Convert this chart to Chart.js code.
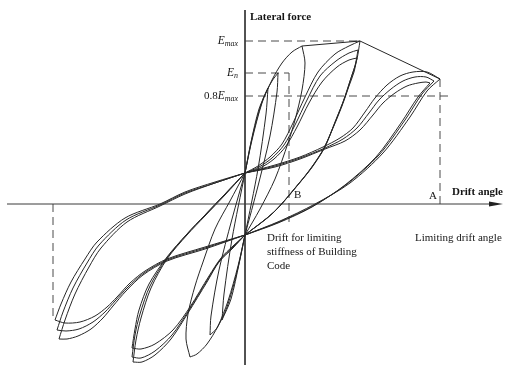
<!DOCTYPE html>
<html lang="en">
<head>
<meta charset="UTF-8">
<title>Lateral force vs drift angle</title>
<script src="https://cdn.jsdelivr.net/npm/chart.js"></script>
<style>
  body { margin: 0; background: #fff; }
  #box { width: 507px; height: 365px; }
</style>
</head>
<body>
<div id="box"><canvas id="loops" width="507" height="365"></canvas></div>
<script>
// drift angle on x, lateral force on y (same arbitrary units)
var driftRange = [-245, 262];
var forceRange = [-161, 204];
var driftAxis = [-238, 258];
var forceAxis = [-161, 194];

// force levels marked on the vertical axis
var forceLevels = [163, 131, 108];
var levelPrefix = ['', '', '0.8'];
var levelSub = ['max', 'n', 'max'];

// drift marks: B (building code stiffness), A (limiting drift), negative limit
var driftB = 44;
var driftA = 195;
var driftNeg = -192;
var peakA = [195, 125];
var peakNeg = [-190, -116];
var peakMax = [115, 163];

// skeleton through the peaks
var envelope = [[57, 158], [115, 163], [195, 125]];

// each loop: positive loading, unloading, negative loading, unloading
var loopA1 = [
  [[0,31],[30,39],[55,47],[78,57],[95,66],[108,76],[120,92],[130,106],[142,119],[155,128],[168,132],[182,132],[195,125]],
  [[195,125],[182,113],[165,87],[138,51],[105,21],[70,0],[35,-17],[0,-31]],
  [[0,-31],[-40,-43],[-78,-55],[-100,-67],[-115,-79],[-128,-93],[-138,-103],[-150,-112],[-165,-118],[-180,-119],[-190,-116]],
  [[-190,-116],[-184,-100],[-174,-78],[-160,-55],[-148,-38],[-120,-14],[-85,0],[-60,12],[-30,22],[0,31]]
];
var loopA2 = [
  [[0,31],[30,38],[55,46],[80,56],[98,65],[112,76],[124,91],[134,104],[146,115],[158,123],[170,127],[181,127],[189,123]],
  [[189,123],[177,110],[160,84],[134,49],[102,20],[68,-2],[34,-18],[0,-31]],
  [[0,-31],[-40,-44],[-78,-56],[-101,-69],[-117,-83],[-130,-97],[-140,-108],[-152,-118],[-166,-125],[-179,-127],[-188,-126]],
  [[-188,-126],[-182,-108],[-172,-84],[-158,-59],[-146,-41],[-119,-16],[-85,-1],[-60,11],[-30,21],[0,31]]
];
var loopA3 = [
  [[0,31],[30,37],[55,45],[80,55],[100,63],[115,74],[128,89],[138,101],[150,111],[162,118],[173,121],[181,122],[185,121]],
  [[185,121],[173,107],[156,81],[131,47],[100,19],[67,-3],[33,-19],[0,-31]],
  [[0,-31],[-40,-45],[-78,-57],[-102,-71],[-119,-87],[-132,-102],[-142,-114],[-154,-125],[-167,-132],[-178,-135],[-186,-135]],
  [[-186,-135],[-180,-116],[-170,-90],[-156,-63],[-144,-44],[-118,-18],[-85,-2],[-60,10],[-30,21],[0,31]]
];
var loopE1 = [
  [[0,31],[13,38],[25,47],[37,60],[48,81],[60,107],[73,132],[90,150],[104,158],[115,163]],
  [[115,163],[112,145],[107,129],[100,107],[90,82],[80,57],[68,38],[57,24],[30,-7],[0,-31]],
  [[0,-31],[-12,-42],[-24,-54],[-36,-72],[-55,-103],[-72,-126],[-90,-140],[-104,-145],[-113,-144]],
  [[-113,-144],[-110,-125],[-106,-106],[-96,-80],[-78,-53],[-58,-30],[-40,-11],[-20,10],[0,31]]
];
var loopE2 = [
  [[0,31],[14,37],[27,46],[39,59],[50,79],[62,104],[75,128],[91,143],[104,151],[113,154]],
  [[113,154],[110,138],[105,123],[98,102],[89,79],[79,56],[67,37],[56,23],[29,-8],[0,-31]],
  [[0,-31],[-12,-43],[-25,-56],[-37,-75],[-56,-106],[-73,-131],[-90,-147],[-104,-154],[-113,-153]],
  [[-113,-153],[-110,-131],[-105,-110],[-95,-82],[-78,-54],[-58,-30],[-40,-11],[-20,10],[0,31]]
];
var loopE3 = [
  [[0,31],[15,36],[29,45],[41,58],[52,77],[64,101],[77,122],[92,137],[104,144],[112,146]],
  [[112,146],[109,132],[104,118],[97,98],[88,76],[78,54],[66,36],[55,22],[28,-9],[0,-31]],
  [[0,-31],[-12,-44],[-26,-58],[-38,-78],[-57,-109],[-74,-135],[-90,-151],[-103,-158],[-112,-158]],
  [[-112,-158],[-109,-136],[-104,-114],[-94,-84],[-78,-55],[-58,-31],[-40,-12],[-20,9],[0,31]]
];
var loopB = [
  [[0,31],[7,64],[17,101],[27,124],[37,141],[47,152],[57,158]],
  [[57,158],[60,141],[57,114],[50,84],[43,61],[30,25],[15,-5],[0,-31]],
  [[0,-31],[-7,-62],[-17,-97],[-27,-122],[-38,-140],[-48,-150],[-55,-153]],
  [[-55,-153],[-59,-135],[-57,-110],[-50,-82],[-42,-58],[-30,-25],[-15,3],[0,31]]
];
var loopS1 = [
  [[0,31],[8,70],[18,105],[27,123],[33,131]],
  [[33,131],[32,112],[25,68],[13,18],[0,-31]],
  [[0,-31],[-8,-68],[-18,-103],[-28,-124],[-35,-131]],
  [[-35,-131],[-34,-112],[-26,-66],[-13,-15],[0,31]]
];
var loopS0 = [
  [[0,31],[6,62],[14,95],[23,116]],
  [[23,116],[21,90],[13,35],[0,-31]],
  [[0,-31],[-6,-60],[-14,-95],[-23,-116]],
  [[-23,-116],[-21,-90],[-13,-35],[0,31]]
];

var loops = [loopA1, loopA2, loopA3, loopE1, loopE2, loopE3, loopB, loopS1, loopS0];

function toPoints(pairs) {
  return pairs.map(function (p) { return { x: p[0], y: p[1] }; });
}

// segments are joined end to start, the repeated point keeps a sharp corner
function loopPoints(loop) {
  var pts = [];
  loop.forEach(function (seg) { pts = pts.concat(toPoints(seg)); });
  return pts;
}

var ink = '#262626';
var datasets = [];

loops.forEach(function (loop) {
  datasets.push({ data: loopPoints(loop), borderColor: ink, borderWidth: 1, tension: 0.3 });
});

datasets.push({ data: toPoints(envelope), borderColor: ink, borderWidth: 1, tension: 0 });

// axes
datasets.push({ data: toPoints([[driftAxis[0], 0], [driftAxis[1] - 8, 0]]), borderColor: '#3a3a3a', borderWidth: 1, tension: 0 });
datasets.push({ data: toPoints([[0, forceAxis[1]], [0, forceAxis[0]]]), borderColor: '#3a3a3a', borderWidth: 1, tension: 0 });

// dashed guides
var guides = [
  [[0, forceLevels[0]], [peakMax[0], forceLevels[0]]],
  [[0, forceLevels[1]], [driftB, forceLevels[1]]],
  [[0, forceLevels[2]], [205, forceLevels[2]]],
  [[driftB, forceLevels[1]], [driftB, -18]],
  [[driftA, peakA[1]], [driftA, 0]],
  [[driftNeg, 0], [driftNeg, peakNeg[1]]]
];
guides.forEach(function (g) {
  datasets.push({ data: toPoints(g), borderColor: '#4a4a4a', borderWidth: 1, borderDash: [8, 5], tension: 0 });
});

datasets.forEach(function (d) {
  d.showLine = true;
  d.pointRadius = 0;
  d.fill = false;
});

// arrow head and all the lettering
var annotate = {
  id: 'annotate',
  afterDatasetsDraw: function (chart) {
    var ctx = chart.ctx;
    var sx = chart.scales.x, sy = chart.scales.y;
    var X = function (v) { return sx.getPixelForValue(v); };
    var Y = function (v) { return sy.getPixelForValue(v); };
    ctx.save();

    var tip = X(driftAxis[1]), y0 = Y(0);
    ctx.fillStyle = '#222';
    ctx.beginPath();
    ctx.moveTo(tip, y0);
    ctx.lineTo(tip - 14, y0 - 2.6);
    ctx.lineTo(tip - 14, y0 + 2.6);
    ctx.closePath();
    ctx.fill();

    ctx.fillStyle = '#151515';
    ctx.textBaseline = 'middle';

    ctx.font = 'bold 11px "Liberation Serif"';
    ctx.textAlign = 'left';
    ctx.fillText('Lateral force', X(0) + 5, Y(forceAxis[1]) + 7);
    ctx.textAlign = 'right';
    ctx.fillText('Drift angle', X(driftRange[1]) - 4, y0 - 12);

    // force level labels, right aligned against the axis
    forceLevels.forEach(function (lv, i) {
      var parts = [
        { t: levelPrefix[i], f: '11px "Liberation Serif"', dy: 0 },
        { t: 'E', f: 'italic 11.5px "Liberation Serif"', dy: 0 },
        { t: levelSub[i], f: 'italic 8px "Liberation Serif"', dy: 3 }
      ];
      var w = 0;
      parts.forEach(function (p) { ctx.font = p.f; w += ctx.measureText(p.t).width; });
      var x = X(0) - 7 - w;
      ctx.textAlign = 'left';
      parts.forEach(function (p) {
        ctx.font = p.f;
        ctx.fillText(p.t, x, Y(lv) + p.dy);
        x += ctx.measureText(p.t).width;
      });
    });

    ctx.font = '11px "Liberation Serif"';
    ctx.textAlign = 'left';
    ctx.fillText('B', X(driftB) + 5, y0 - 9);
    ctx.textAlign = 'right';
    ctx.fillText('A', X(driftA) - 3, y0 - 8);

    ctx.textAlign = 'left';
    ctx.fillText('Drift for limiting', X(driftB) - 22, y0 + 34);
    ctx.fillText('stiffness of Building', X(driftB) - 22, y0 + 48);
    ctx.fillText('Code', X(driftB) - 22, y0 + 62);
    ctx.fillText('Limiting drift angle', X(driftA) - 25, y0 + 34);

    ctx.restore();
  }
};

new Chart(document.getElementById('loops'), {
  type: 'scatter',
  data: { datasets: datasets },
  options: {
    responsive: false,
    animation: false,
    layout: { padding: 0 },
    plugins: { legend: { display: false }, tooltip: { enabled: false } },
    scales: {
      x: { type: 'linear', min: driftRange[0], max: driftRange[1], display: false },
      y: { type: 'linear', min: forceRange[0], max: forceRange[1], display: false }
    }
  },
  plugins: [annotate]
});
</script>
</body>
</html>
